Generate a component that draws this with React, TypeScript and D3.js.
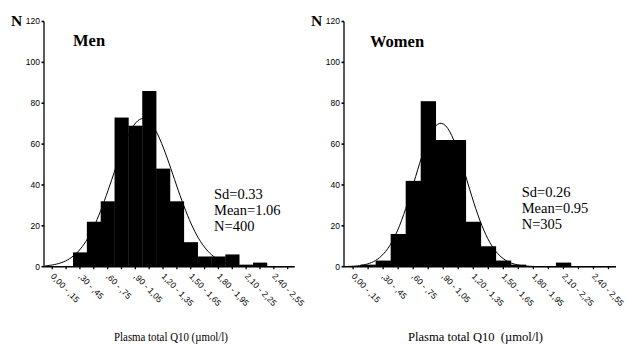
import React from "react";
import * as d3 from "d3";

const BIN_WIDTH = 0.15;
const BIN_COUNT = 18;
const yTicks = [0, 20, 40, 60, 80, 100, 120];
const binLabels = [
  "0,00 - ,15",
  ",30 - ,45",
  ",60 - ,75",
  ",90 - 1,05",
  "1,20 - 1,35",
  "1,50 - 1,65",
  "1,80 - 1,95",
  "2,10 - 2,25",
  "2,40 - 2,55",
];
const menCounts = [0, 0, 7, 22, 32, 73, 69, 86, 48, 32, 12, 5, 5, 6, 1, 2, 0, 0];
const womenCounts = [0, 1, 3, 16, 42, 81, 62, 62, 22, 10, 3, 1, 0, 0, 2, 0, 0, 0];
const menStats = { sd: 0.33, mean: 1.06, n: 400 };
const womenStats = { sd: 0.26, mean: 0.95, n: 305 };

type PanelProps = {
  axisX: number;
  range: [number, number];
  counts: number[];
  stats: { sd: number; mean: number; n: number };
  title: string;
  titleX: number;
  titleY: number;
  statsX: number;
  statsY: number;
  axisTitle: string;
  axisTitleX: number;
  axisTitleWidth: number;
};

const serif = "'Liberation Serif', 'Times New Roman', serif";
const sans = "'Liberation Sans', Arial, sans-serif";

function Panel(p: PanelProps) {
  const y = d3.scaleLinear().domain([0, 120]).range([266.7, 21.5]);
  const x = d3.scaleLinear().domain([0, BIN_WIDTH * BIN_COUNT]).range(p.range);
  const y0 = y(0);
  const bins = p.counts.map((c, i) => ({ c, x0: i * BIN_WIDTH, x1: (i + 1) * BIN_WIDTH }));
  const { sd, mean, n } = p.stats;
  const fit = (v: number) =>
    (n * BIN_WIDTH * Math.exp(-0.5 * ((v - mean) / sd) ** 2)) / (sd * Math.sqrt(2 * Math.PI));
  const xs = d3.range(0, BIN_WIDTH * BIN_COUNT + 0.0001, 0.02);
  const line = d3
    .line<number>()
    .x((v) => x(v))
    .y((v) => y(fit(v)));
  const fmt = (v: number) => v.toFixed(2);
  return (
    <g>
      {bins.map((b, i) =>
        b.c > 0 ? (
          <rect
            key={i}
            x={x(b.x0)}
            y={y(b.c)}
            width={x(b.x1) - x(b.x0) + 0.3}
            height={y0 - y(b.c)}
            fill="#000"
          />
        ) : null
      )}
      <path d={line(xs) || ""} fill="none" stroke="#000" strokeWidth={1} />
      <line x1={p.axisX} x2={p.axisX} y1={y(120)} y2={y0} stroke="#000" strokeWidth={1.3} />
      {yTicks.map((t) => (
        <g key={t}>
          <line x1={p.axisX - 2.5} x2={p.axisX} y1={y(t)} y2={y(t)} stroke="#000" strokeWidth={1.6} />
          <text
            x={p.axisX - 4}
            y={y(t)}
            dy="0.35em"
            textAnchor="end"
            fontFamily={sans}
            fontSize={8.5}
            fill="#000"
          >
            {t}
          </text>
        </g>
      ))}
      <line x1={p.axisX} x2={p.range[1]} y1={y0} y2={y0} stroke="#000" strokeWidth={1.5} />
      {bins.map((b, i) => (
        <line
          key={i}
          x1={x(b.x0 + BIN_WIDTH / 2)}
          x2={x(b.x0 + BIN_WIDTH / 2)}
          y1={y0}
          y2={y0 + 2.5}
          stroke="#000"
          strokeWidth={1.3}
        />
      ))}
      {binLabels.map((lab, j) => {
        const cx = x((2 * j + 0.5) * BIN_WIDTH);
        return (
          <text
            key={lab}
            transform={`translate(${cx - 2},${y0 + 10}) rotate(46)`}
            fontFamily={sans}
            fontSize={8.5}
            letterSpacing={0.1}
            fill="#000"
          >
            {lab}
          </text>
        );
      })}
      <text x={p.titleX} y={p.titleY} fontFamily={serif} fontWeight="bold" fontSize={16.5} fill="#000">
        {p.title}
      </text>
      <text x={p.axisX - 33} y={25.5} fontFamily={serif} fontWeight="bold" fontSize={15.5} fill="#000">
        N
      </text>
      {[`Sd=${fmt(sd)}`, `Mean=${fmt(mean)}`, `N=${n}`].map((s, i) => (
        <text
          key={s}
          x={p.statsX}
          y={p.statsY + i * 16.2}
          fontFamily={serif}
          fontSize={14.5}
          fill="#000"
        >
          {s}
        </text>
      ))}
      <text
        x={p.axisTitleX}
        y={341}
        fontFamily={serif}
        fontSize={13}
        textLength={p.axisTitleWidth}
        lengthAdjust="spacingAndGlyphs"
        style={{ whiteSpace: "pre" }}
        fill="#000"
      >
        {p.axisTitle}
      </text>
    </g>
  );
}

export default function App() {
  return (
    <svg
      width={626}
      height={345}
      style={{ position: "absolute", left: 0, top: 0, background: "#fff" }}
    >
      <rect width={626} height={345} fill="#fff" />
      <Panel
        axisX={44}
        range={[45.3, 294.6]}
        counts={menCounts}
        stats={menStats}
        title="Men"
        titleX={73}
        titleY={45.5}
        statsX={214}
        statsY={198.5}
        axisTitle="Plasma total Q10 (µmol/l)"
        axisTitleX={114}
        axisTitleWidth={114}
      />
      <Panel
        axisX={344}
        range={[345.6, 616]}
        counts={womenCounts}
        stats={womenStats}
        title="Women"
        titleX={370}
        titleY={47}
        statsX={521.7}
        statsY={197}
        axisTitle="Plasma total Q10  (µmol/l)"
        axisTitleX={408}
        axisTitleWidth={135}
      />
    </svg>
  );
}
